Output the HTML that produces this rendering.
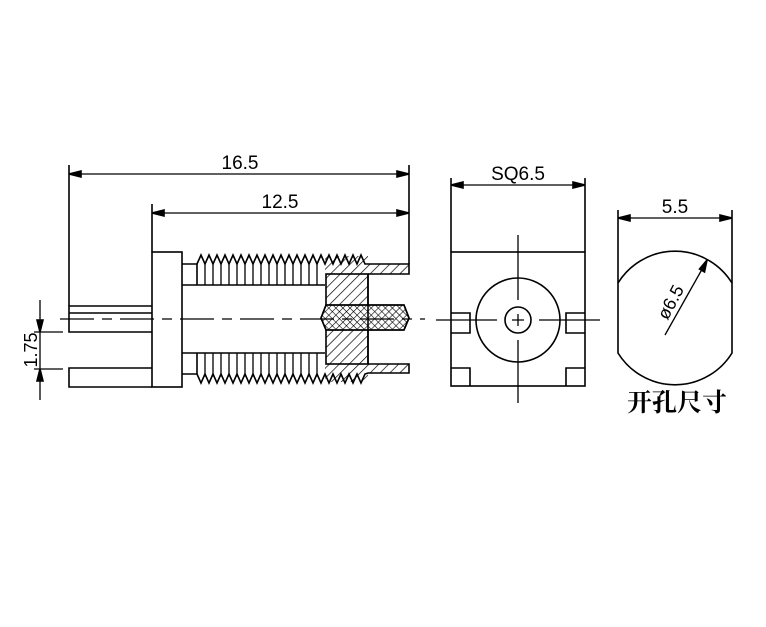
<!DOCTYPE html>
<html><head><meta charset="utf-8"><style>
html,body{margin:0;padding:0;background:#fff;}
svg{display:block;}
</style></head><body>
<svg width="766" height="627" viewBox="0 0 766 627" xmlns="http://www.w3.org/2000/svg">
<defs>
<pattern id="h1" width="7" height="7" patternUnits="userSpaceOnUse" patternTransform="rotate(45)">
<line x1="0" y1="0" x2="0" y2="7" stroke="#000" stroke-width="1.4"/></pattern>
<pattern id="hx" width="5" height="5" patternUnits="userSpaceOnUse" patternTransform="rotate(45)">
<line x1="0" y1="0" x2="0" y2="5" stroke="#000" stroke-width="1.2"/><line x1="0" y1="0" x2="5" y2="0" stroke="#000" stroke-width="1.2"/></pattern>
</defs>
<g fill="none" stroke="#000" stroke-width="1.6" font-family="Liberation Sans, sans-serif">
<!-- dims left -->
<line x1="69" y1="165" x2="69" y2="306"/>
<line x1="409" y1="165" x2="409" y2="264"/>
<line x1="152" y1="204" x2="152" y2="252"/>
<line x1="80" y1="174" x2="398" y2="174" stroke-width="1.3"/>
<path d="M69,174 l12,-3 v6z M409,174 l-12,-3 v6z M152,213 l12,-3 v6z M409,213 l-12,-3 v6z" fill="#000"/>
<line x1="162" y1="213" x2="398" y2="213" stroke-width="1.3"/>
<!-- flange & pins -->
<rect x="152" y="252" width="30" height="135"/>
<path d="M152,306 H69 V332 H152 M69,313 H152"/>
<path d="M152,368 H69 V387 H152"/>
<!-- collar -->
<path d="M182,264 H197 M182,285 H325 M182,353 H325 M182,374 H197 M197,264 V285 M197,353 V374"/>
<!-- hatch in nut region -->
<path d="M325,256 H368 V264 H409 V274 H325 Z" fill="url(#h1)" stroke="none"/>
<path d="M325,364 H409 V373 H368 V382 H325 Z" fill="url(#h1)" stroke="none"/>
<!-- threads -->
<path d="M197,264 L201,255 L205,264 L209,255 L213,264 L217,255 L221,264 L225,255 L229,264 L233,255 L237,264 L241,255 L245,264 L249,255 L253,264 L257,255 L261,264 L265,255 L269,264 L273,255 L277,264 L281,255 L285,264 L289,255 L293,264 L297,255 L301,264 L305,255 L309,264 L313,255 L317,264 L321,255 L325,264 L329,255 L333,264 L337,255 L341,264 L345,255 L349,264 L353,255 L357,264 L361,255 L365,264 L368,264 H409 V274 H368"/>
<path d="M197,374 L201,383 L205,374 L209,383 L213,374 L217,383 L221,374 L225,383 L229,374 L233,383 L237,374 L241,383 L245,374 L249,383 L253,374 L257,383 L261,374 L265,383 L269,374 L273,383 L277,374 L281,383 L285,374 L289,383 L293,374 L297,383 L301,374 L305,383 L309,374 L313,383 L317,374 L321,383 L325,374 L329,383 L333,374 L337,383 L341,374 L345,383 L349,374 L353,383 L357,374 L361,383 L365,374 L368,373 H409 V364 H368"/>
<g stroke-width="1.3">
<path d="M205,264V285 M213,264V285 M221,264V285 M229,264V285 M237,264V285 M245,264V285 M253,264V285 M261,264V285 M269,264V285 M277,264V285 M285,264V285 M293,264V285 M301,264V285 M309,264V285 M317,264V285"/>
<path d="M205,353V374 M213,353V374 M221,353V374 M229,353V374 M237,353V374 M245,353V374 M253,353V374 M261,353V374 M269,353V374 M277,353V374 M285,353V374 M293,353V374 M301,353V374 M309,353V374 M317,353V374"/>
</g>
<rect x="326" y="274" width="42" height="90" fill="url(#h1)"/>
<path d="M326,305 H404 L409,318 L404,330 H326 L321,318 Z" fill="#fff"/>
<path d="M326,305 H404 L409,318 L404,330 H326 L321,318 Z" fill="url(#hx)"/>
<line x1="368" y1="274" x2="368" y2="364"/>
<!-- centerline -->
<line x1="60" y1="319" x2="425" y2="319" stroke-dasharray="34,8,10,8" stroke-width="1.3"/>
<!-- 1.75 -->
<line x1="40" y1="300" x2="40" y2="400" stroke-width="1.3"/>
<path d="M40,332 l-3,-12 h6z M40,369 l-3,12 h6z" fill="#000"/>
<path d="M34,332 H63 M34,369 H63" stroke-width="1.3"/>
<text x="0" y="0" transform="translate(37,350) rotate(-90)" text-anchor="middle" font-size="18" fill="#000" stroke="none">1.75</text>
<text x="240" y="169" text-anchor="middle" font-size="19" fill="#000" stroke="none">16.5</text>
<text x="280" y="208" text-anchor="middle" font-size="19" fill="#000" stroke="none">12.5</text>
<!-- square view -->
<line x1="451" y1="178" x2="451" y2="252"/>
<line x1="585" y1="178" x2="585" y2="252"/>
<line x1="460" y1="185" x2="576" y2="185" stroke-width="1.3"/>
<path d="M451,185 l12,-3 v6z M585,185 l-12,-3 v6z" fill="#000"/>
<text x="518" y="180" text-anchor="middle" font-size="19" fill="#000" stroke="none">SQ6.5</text>
<rect x="451" y="252" width="134" height="134"/>
<circle cx="518" cy="320" r="42"/>
<circle cx="518" cy="320" r="13"/>
<path d="M518,235 V300 M518,340 V403 M436,320 H497 M539,320 H600 M512,320 H524 M518,314 V326" stroke-width="1.3"/>
<path d="M451,313 H470 V333 H451 M585,313 H566 V333 H585 M451,368 H470 V386 M585,368 H566 V386"/>
<!-- cutout -->
<line x1="618" y1="210" x2="618" y2="283"/>
<line x1="732" y1="210" x2="732" y2="283"/>
<line x1="628" y1="218" x2="722" y2="218" stroke-width="1.3"/>
<path d="M618,218 l12,-3 v6z M732,218 l-12,-3 v6z" fill="#000"/>
<text x="675" y="213" text-anchor="middle" font-size="19" fill="#000" stroke="none">5.5</text>
<path d="M618,283 A67,67 0 0 1 732,283 V353 A67,67 0 0 1 618,353 Z"/>
<line x1="665" y1="335" x2="705" y2="264" stroke-width="1.3"/>
<path d="M707,260 l-2.5,12 l-5,-3z" fill="#000"/>
<text x="0" y="0" transform="translate(676,305) rotate(-62)" text-anchor="middle" font-size="18" fill="#000" stroke="none">ø6.5</text>
<text x="677" y="411" text-anchor="middle" font-size="25" font-weight="bold" font-family="Liberation Serif, Noto Serif CJK SC, serif" fill="#000" stroke="none">开孔尺寸</text>
</g>
</svg>
</body></html>
